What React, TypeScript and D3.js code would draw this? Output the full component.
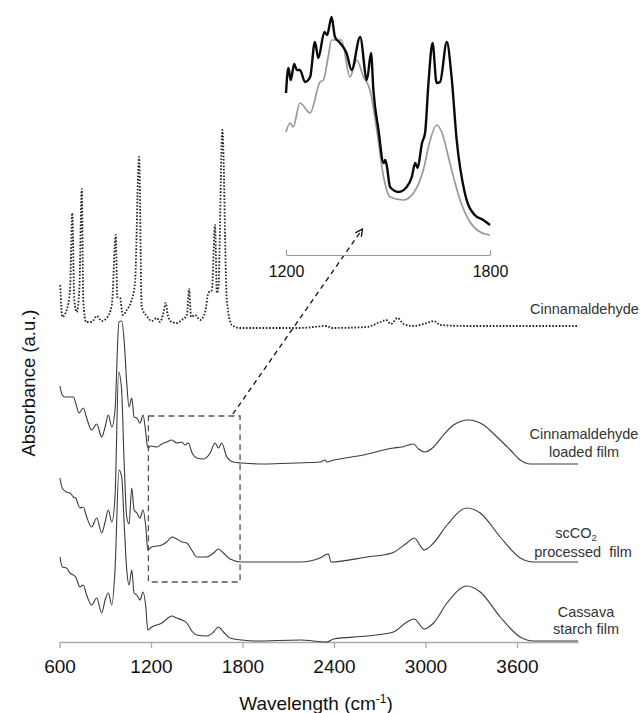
import { useEffect, useRef } from 'react';
import * as d3 from 'd3';

type Pt = [number, number];

const xTicks = [600, 1200, 1800, 2400, 3000, 3600];
const insetTicks = [1200, 1800];

// wavenumber (cm-1), relative absorbance
const cinnamaldehyde: Pt[] = [
  [605, 0.43], [618, 0.11], [647, 0.18], [669, 0.38], [684, 1.15], [697, 0.28], [713, 0.16],
  [730, 0.38], [746, 1.39], [756, 0.28], [774, 0.06], [811, 0.06], [844, 0.12], [877, 0.07],
  [910, 0.1], [943, 0.23], [969, 0.93], [979, 0.31], [997, 0.3], [1015, 0.13], [1041, 0.18],
  [1069, 0.26], [1095, 0.45], [1122, 1.71], [1139, 0.21], [1172, 0.12], [1205, 0.07],
  [1238, 0.1], [1259, 0.06], [1281, 0.15], [1297, 0.25], [1310, 0.13], [1336, 0.06],
  [1369, 0.05], [1402, 0.08], [1435, 0.13], [1450, 0.39], [1463, 0.11], [1489, 0.13],
  [1522, 0.08], [1555, 0.16], [1576, 0.35], [1599, 0.38], [1620, 1.03], [1632, 0.35],
  [1642, 0.41], [1668, 1.98], [1697, 0.28], [1730, 0.03], [1784, 0], [2178, 0], [2353, 0.02],
  [2386, 0], [2616, 0.01], [2703, 0.06], [2742, 0.08], [2773, 0.04], [2817, 0.1], [2856, 0.04],
  [2921, 0.02], [3009, 0.05], [3053, 0.07], [3097, 0.03], [3272, 0.02], [4000, 0.02],
];

const loadedFilm: Pt[] = [
  [603, 0.78], [618, 0.69], [636, 0.67], [669, 0.67], [691, 0.67], [706, 0.61], [728, 0.51],
  [756, 0.56], [778, 0.46], [811, 0.34], [844, 0.4], [877, 0.27], [899, 0.37], [920, 0.49],
  [943, 0.37], [964, 0.54], [990, 1.42], [1008, 1.43], [1025, 1.21], [1041, 0.81], [1056, 0.57],
  [1074, 0.66], [1089, 0.47], [1107, 0.46], [1128, 0.41], [1148, 0.49], [1166, 0.31],
  [1179, 0.16], [1200, 0.18], [1238, 0.17], [1271, 0.2], [1303, 0.22], [1336, 0.24],
  [1369, 0.21], [1402, 0.22], [1423, 0.19], [1445, 0.21], [1467, 0.12], [1500, 0.06],
  [1544, 0.05], [1588, 0.11], [1620, 0.21], [1642, 0.16], [1664, 0.21], [1697, 0.07],
  [1740, 0.02], [1796, 0.01], [1937, 0], [2156, 0.01], [2309, 0.02], [2342, 0.04], [2353, 0.02],
  [2375, 0.03], [2593, 0.09], [2790, 0.16], [2845, 0.17], [2889, 0.19], [2921, 0.2], [2954, 0.15],
  [2998, 0.12], [3053, 0.17], [3118, 0.29], [3184, 0.39], [3282, 0.44], [3381, 0.39],
  [3469, 0.27], [3556, 0.14], [3621, 0.04], [3687, 0], [4000, 0],
];

const processedFilm: Pt[] = [
  [603, 0.84], [618, 0.74], [646, 0.7], [669, 0.69], [691, 0.65], [706, 0.64], [734, 0.54],
  [756, 0.55], [778, 0.45], [811, 0.35], [844, 0.44], [877, 0.29], [899, 0.4], [920, 0.52],
  [943, 0.4], [964, 0.65], [988, 1.9], [1006, 1.75], [1025, 0.95], [1041, 0.45], [1056, 0.38],
  [1074, 0.74], [1089, 0.52], [1107, 0.49], [1128, 0.44], [1148, 0.52], [1166, 0.35],
  [1179, 0.12], [1205, 0.15], [1238, 0.16], [1271, 0.17], [1303, 0.2], [1336, 0.25],
  [1369, 0.23], [1402, 0.2], [1435, 0.19], [1467, 0.12], [1500, 0.05], [1566, 0.05],
  [1610, 0.09], [1642, 0.13], [1675, 0.09], [1718, 0.03], [1796, 0], [2177, 0], [2309, 0.04],
  [2342, 0.07], [2364, 0.08], [2380, 0], [2616, 0.05], [2780, 0.09], [2878, 0.19], [2926, 0.24],
  [2992, 0.12], [3053, 0.19], [3141, 0.37], [3272, 0.54], [3359, 0.49], [3490, 0.25],
  [3621, 0.04], [3709, 0], [4000, 0],
];

const cassavaFilm: Pt[] = [
  [603, 0.84], [618, 0.74], [646, 0.73], [669, 0.68], [691, 0.66], [706, 0.64], [734, 0.54],
  [756, 0.56], [778, 0.46], [811, 0.36], [844, 0.43], [877, 0.28], [899, 0.41], [920, 0.48],
  [943, 0.36], [964, 0.71], [990, 1.71], [1008, 1.64], [1025, 1.14], [1041, 0.71], [1056, 0.56],
  [1074, 0.71], [1089, 0.48], [1107, 0.46], [1128, 0.41], [1148, 0.49], [1166, 0.34],
  [1179, 0.11], [1205, 0.14], [1238, 0.16], [1271, 0.18], [1303, 0.22], [1336, 0.25],
  [1369, 0.23], [1402, 0.21], [1435, 0.18], [1467, 0.1], [1500, 0.06], [1566, 0.05],
  [1610, 0.09], [1642, 0.14], [1675, 0.09], [1718, 0.03], [1796, 0.01], [1883, 0], [2177, 0.01],
  [2353, -0.01], [2397, 0.02], [2616, 0.05], [2790, 0.09], [2878, 0.19], [2926, 0.22],
  [2992, 0.12], [3053, 0.18], [3141, 0.38], [3272, 0.55], [3359, 0.49], [3490, 0.24],
  [3621, 0.04], [3709, 0], [4000, 0],
];

// zoomed 1200-1800 region
const insetLoaded: Pt[] = [
  [1200, 1.62], [1207, 1.87], [1214, 1.75], [1224, 1.91], [1232, 1.85], [1241, 1.85],
  [1256, 1.73], [1271, 1.78], [1285, 2.13], [1295, 1.97], [1313, 2.23], [1321, 2.2],
  [1334, 2.38], [1344, 2.18], [1359, 2.12], [1378, 2.02], [1393, 1.85], [1418, 2.18],
  [1438, 1.75], [1450, 2.02], [1457, 1.65], [1472, 1.25], [1487, 0.92], [1492, 0.95],
  [1497, 0.88], [1506, 0.68], [1531, 0.63], [1555, 0.68], [1570, 0.78], [1580, 0.92],
  [1587, 0.87], [1600, 1.12], [1609, 1.22], [1619, 1.72], [1631, 2.12], [1643, 1.72],
  [1653, 1.73], [1673, 2.13], [1687, 1.78], [1702, 1.15], [1726, 0.62], [1755, 0.4],
  [1780, 0.35], [1800, 0.3],
];

const insetProcessed: Pt[] = [
  [1200, 1.23], [1212, 1.32], [1221, 1.28], [1241, 1.52], [1271, 1.42], [1300, 1.73],
  [1310, 1.75], [1324, 1.98], [1334, 2.15], [1363, 2.15], [1388, 1.78], [1408, 1.95],
  [1428, 1.78], [1447, 1.65], [1467, 1.25], [1487, 0.78], [1506, 0.58], [1545, 0.55],
  [1575, 0.62], [1604, 0.85], [1624, 1.15], [1643, 1.3], [1658, 1.23], [1682, 0.92],
  [1712, 0.55], [1741, 0.33], [1771, 0.23], [1800, 0.2],
];

const seriesOffsets = [3.14, 1.78, 0.8, 0.01];

const FONT = "'Liberation Sans', Arial, sans-serif";

const SpectraChart = () => {
  const svgRef = useRef<SVGSVGElement>(null);

  useEffect(() => {
    const svg = d3.select(svgRef.current);
    svg.selectAll('*').remove();

    const x = d3.scaleLinear().domain([600, 4000]).range([59.5, 578]);
    const y = d3.scaleLinear().domain([0, 6.42]).range([642, 0]);

    const ix = d3.scaleLinear().domain([1200, 1800]).range([286, 490]);
    const iy = d3.scaleLinear().domain([0, 2.55]).range([255, 0]);

    // main axis
    const axis = svg
      .append('g')
      .attr('transform', `translate(0,${y(0)})`)
      .call(
        d3.axisBottom(x).tickValues(xTicks).tickFormat(d3.format('d')).tickSizeInner(6).tickSizeOuter(0).tickPadding(11.5)
      );
    axis.select('.domain').attr('stroke', '#aaa').attr('stroke-width', 1.3);
    axis.selectAll('.tick line').attr('stroke', '#aaa').attr('stroke-width', 1.3);
    axis.selectAll('.tick text').attr('fill', '#111').style('font-size', '19px').style('font-family', FONT);

    // spectra
    const spectra = [cinnamaldehyde, loadedFilm, processedFilm, cassavaFilm];
    spectra.forEach((data, i) => {
      const line = d3
        .line<Pt>()
        .x(d => x(d[0]))
        .y(d => y(d[1] + seriesOffsets[i]))
        .curve(d3.curveMonotoneX);
      svg
        .append('path')
        .datum(data)
        .attr('d', line)
        .attr('fill', 'none')
        .attr('stroke', i === 0 ? '#222' : '#3a3a3a')
        .attr('stroke-width', i === 0 ? 1.8 : 1.1)
        .attr('stroke-dasharray', i === 0 ? '1.6,1.7' : null);
    });

    // dashed zoom box
    svg
      .append('rect')
      .attr('x', x(1183))
      .attr('y', y(2.26))
      .attr('width', x(1784) - x(1183))
      .attr('height', y(0.6) - y(2.26))
      .attr('fill', 'none')
      .attr('stroke', '#555')
      .attr('stroke-width', 1.3)
      .attr('stroke-dasharray', '6,4');

    // arrow
    svg
      .append('defs')
      .append('marker')
      .attr('id', 'arrowHead')
      .attr('viewBox', '0 0 10 10')
      .attr('refX', 9)
      .attr('refY', 5)
      .attr('markerWidth', 9)
      .attr('markerHeight', 9)
      .attr('markerUnits', 'userSpaceOnUse')
      .attr('orient', 'auto')
      .append('path')
      .attr('d', 'M1,1 L9,5 L1,9')
      .attr('fill', 'none')
      .attr('stroke', '#111')
      .attr('stroke-width', 1.5);

    svg
      .append('line')
      .attr('x1', x(1737))
      .attr('y1', y(2.28))
      .attr('x2', ix(1425))
      .attr('y2', iy(0.26))
      .attr('stroke', '#111')
      .attr('stroke-width', 1.3)
      .attr('stroke-dasharray', '5,4')
      .attr('marker-end', 'url(#arrowHead)');

    // inset
    const insetAxis = svg
      .append('g')
      .attr('transform', `translate(0,${iy(0)})`)
      .call(d3.axisBottom(ix).tickValues(insetTicks).tickFormat(d3.format('d')).tickSizeInner(-5).tickSizeOuter(0).tickPadding(11));
    insetAxis.select('.domain').attr('stroke', '#999').attr('stroke-width', 1.2);
    insetAxis.selectAll('.tick line').attr('stroke', '#999').attr('stroke-width', 1.2);
    insetAxis.selectAll('.tick text').attr('fill', '#111').style('font-size', '16px').style('font-family', FONT);

    const insetLine = d3
      .line<Pt>()
      .x(d => ix(d[0]))
      .y(d => iy(d[1]))
      .curve(d3.curveMonotoneX);

    svg
      .append('path')
      .datum(insetProcessed)
      .attr('d', insetLine)
      .attr('fill', 'none')
      .attr('stroke', '#999')
      .attr('stroke-width', 1.7);

    svg
      .append('path')
      .datum(insetLoaded)
      .attr('d', insetLine)
      .attr('fill', 'none')
      .attr('stroke', '#0a0a0a')
      .attr('stroke-width', 2.4);

    // series labels
    const labels = svg
      .append('g')
      .style('font-family', FONT)
      .style('font-size', '14.5px')
      .attr('fill', '#333');

    labels.append('text').attr('x', 530).attr('y', 314).text('Cinnamaldehyde');

    labels.append('text').attr('x', 584).attr('y', 439).attr('text-anchor', 'middle').text('Cinnamaldehyde');
    labels.append('text').attr('x', 584).attr('y', 457).attr('text-anchor', 'middle').text('loaded film');

    const sc = labels.append('text').attr('x', 576).attr('y', 538).attr('text-anchor', 'middle');
    sc.append('tspan').text('scCO');
    sc.append('tspan').attr('dy', 2.5).style('font-size', '9.5px').text('2');
    labels
      .append('text')
      .attr('x', 583)
      .attr('y', 557)
      .attr('text-anchor', 'middle')
      .style('white-space', 'pre')
      .text('processed  film');

    labels.append('text').attr('x', 586).attr('y', 617).attr('text-anchor', 'middle').text('Cassava');
    labels.append('text').attr('x', 586).attr('y', 634).attr('text-anchor', 'middle').text('starch film');

    // axis titles
    const xt = svg
      .append('text')
      .attr('x', 316)
      .attr('y', 710)
      .attr('text-anchor', 'middle')
      .attr('fill', '#111')
      .style('font-family', FONT)
      .style('font-size', '19px');
    xt.append('tspan').text('Wavelength (cm');
    xt.append('tspan').attr('dy', -7).style('font-size', '12px').text('-1');
    xt.append('tspan').attr('dy', 7).text(')');

    svg
      .append('text')
      .attr('transform', 'translate(35,383) rotate(-90)')
      .attr('text-anchor', 'middle')
      .attr('fill', '#111')
      .style('font-family', FONT)
      .style('font-size', '18.5px')
      .text('Absorbance (a.u.)');
  }, []);

  return (
    <svg
      ref={svgRef}
      width={640}
      height={713}
      style={{ position: 'absolute', left: 0, top: 0, display: 'block', background: '#fff' }}
    />
  );
};

export default function App() {
  return <SpectraChart />;
}
